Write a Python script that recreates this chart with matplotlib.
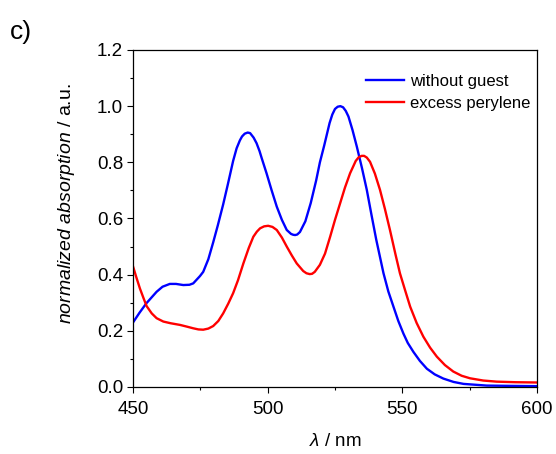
import matplotlib
matplotlib.use("Agg")
import matplotlib.pyplot as plt
from matplotlib.ticker import MultipleLocator

# Werte
wl_blue = [450, 452.5, 455, 458.8, 461, 463.7, 466, 468.7, 471, 472.4, 474.9, 476.1,
           478, 479.8, 481.5, 483.5, 485.2, 487.2, 488.5, 489.7, 490.5, 491.5, 492.6,
           493.5, 494.8, 495.9, 497, 497.8, 499.6, 501.5, 503.4, 505.3, 507.1, 508.7,
           509.5, 510.2, 511, 512, 514, 516, 518, 519.4, 521, 523, 524, 525, 526, 527,
           528, 529, 530, 531.5, 533.1, 535, 536.8, 538.5, 540.3, 543, 544.8, 546.7,
           548.5, 550.4, 552, 554.1, 556.5, 559.1, 562, 565.2, 569, 572.7, 581.3, 590, 600]
abs_blue = [0.229, 0.265, 0.298, 0.339, 0.357, 0.367, 0.367, 0.363, 0.364, 0.369, 0.395, 0.410,
            0.455, 0.515, 0.575, 0.650, 0.720, 0.805, 0.850, 0.878, 0.892, 0.902, 0.906,
            0.904, 0.888, 0.868, 0.840, 0.815, 0.761, 0.700, 0.642, 0.595, 0.559, 0.545,
            0.542, 0.541, 0.543, 0.552, 0.590, 0.655, 0.735, 0.800, 0.860, 0.940, 0.970,
            0.990, 0.998, 1.000, 0.996, 0.983, 0.963, 0.915, 0.856, 0.780, 0.702, 0.615,
            0.525, 0.405, 0.340, 0.286, 0.235, 0.190, 0.157, 0.125, 0.093, 0.065, 0.045,
            0.030, 0.018, 0.011, 0.005, 0.004, 0.003]

wl_red = [450, 451.3, 452.6, 454, 455.1, 457, 458.8, 461.3, 464, 467.5, 470, 472.4,
          474.3, 476.1, 478, 479.8, 481.7, 483.5, 485.4, 487.2, 489, 491, 493, 494.7,
          496, 497.2, 498.7, 500.2, 501.8, 503.4, 505.3, 507.1, 509, 510.8, 513.2, 514.4,
          515.6, 516.5, 517.5, 519.4, 521.3, 523.2, 525, 526.9, 528.7, 530.6, 532.7,
          533.8, 534.9, 535.8, 536.8, 538, 539.8, 541.7, 543.5, 545.4, 547.5, 549.1, 551,
          552.9, 555.3, 557.8, 560.3, 562.8, 565.8, 568.9, 572, 575.1, 580, 585, 592, 600]
abs_red = [0.431, 0.390, 0.351, 0.315, 0.288, 0.262, 0.245, 0.233, 0.227, 0.221, 0.215, 0.209,
           0.205, 0.204, 0.208, 0.217, 0.235, 0.262, 0.297, 0.334, 0.380, 0.440, 0.495, 0.535,
           0.553, 0.565, 0.572, 0.574, 0.570, 0.559, 0.532, 0.500, 0.468, 0.440, 0.413, 0.405,
           0.402, 0.403, 0.410, 0.435, 0.475, 0.535, 0.595, 0.654, 0.710, 0.761, 0.805,
           0.818, 0.823, 0.823, 0.817, 0.802, 0.760, 0.702, 0.635, 0.559, 0.470, 0.405, 0.345,
           0.286, 0.228, 0.179, 0.140, 0.108, 0.078, 0.055, 0.040, 0.031, 0.023, 0.019, 0.017, 0.016]

labels = ["without guest", "excess perylene"]

plt.rcParams["font.family"] = ["Liberation Sans", "DejaVu Sans"]
plt.rcParams["mathtext.fontset"] = "custom"
plt.rcParams["mathtext.rm"] = "Liberation Sans"
plt.rcParams["mathtext.it"] = "Liberation Sans:italic"

fig = plt.figure(figsize=(5.56, 4.54), dpi=100)
ax = fig.add_axes([0.239, 0.1476, 0.727, 0.7423])

ax.plot(wl_blue, abs_blue, color="#0000ff", lw=1.7, label=labels[0])
ax.plot(wl_red, abs_red, color="#ff0000", lw=1.7, label=labels[1])

ax.set_xlim(450, 600)
ax.set_ylim(0, 1.2)
ax.xaxis.set_major_locator(MultipleLocator(50))
ax.xaxis.set_minor_locator(MultipleLocator(25))
ax.yaxis.set_major_locator(MultipleLocator(0.2))
ax.yaxis.set_minor_locator(MultipleLocator(0.1))
ax.yaxis.set_major_formatter(plt.FormatStrFormatter("%.1f"))
ax.tick_params(which="major", direction="out", length=4.5, width=0.8, labelsize=13.5, pad=2.5)
ax.tick_params(axis="x", which="major", pad=5.5)
ax.tick_params(which="minor", direction="out", length=2.5, width=0.8)
for s in ax.spines.values():
    s.set_linewidth(0.9)

ax.set_xlabel(r"$\lambda$ / nm", fontsize=13.5, labelpad=11)
ax.set_ylabel(r"$normalized\ absorption$ / a.u.", fontsize=14)
ax.yaxis.set_label_coords(-0.138, 0.545)

ax.legend(loc="upper right", bbox_to_anchor=(1.0, 0.95), frameon=False, fontsize=12,
          handlelength=2.3, handletextpad=0.35, labelspacing=0.45, borderaxespad=0)

fig.text(0.018, 0.915, "c)", fontsize=19)

fig.savefig("out.png", dpi=100)
